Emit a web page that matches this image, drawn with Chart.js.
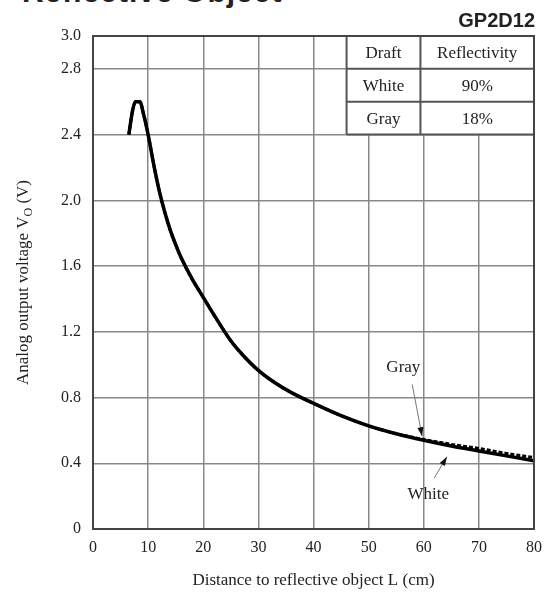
<!DOCTYPE html>
<html>
<head>
<meta charset="utf-8">
<script src="https://cdn.jsdelivr.net/npm/chart.js@4.4.1/dist/chart.umd.min.js"></script>
<style>
  html, body { margin: 0; padding: 0; background: #fff; }
  #wrap { position: relative; width: 551px; height: 603px; overflow: hidden; }
  #cut { position: absolute; left: 22px; top: -25px; font: bold 30px "Liberation Sans", sans-serif; color: #222; letter-spacing: 1px; }
  canvas { position: absolute; left: 0; top: 0; }
</style>
</head>
<body>
<div id="wrap">
  <div id="cut">Reflective Object</div>
  <canvas id="chart" width="551" height="603"></canvas>
</div>
<script>
// distance (cm) and output voltage (V)
const distances = [6.5, 7.2, 7.7, 8.5, 9.2, 10, 11, 12, 13, 14, 15, 16, 18, 20, 22, 25, 27, 30, 33, 36, 40, 45, 50, 55, 60, 65, 70, 75, 80];
const whiteVolts = [2.40, 2.55, 2.60, 2.60, 2.52, 2.40, 2.22, 2.06, 1.93, 1.82, 1.73, 1.65, 1.52, 1.41, 1.30, 1.145, 1.065, 0.965, 0.89, 0.83, 0.765, 0.69, 0.628, 0.58, 0.54, 0.505, 0.475, 0.445, 0.415];
const grayVolts  = [2.40, 2.55, 2.60, 2.60, 2.52, 2.40, 2.22, 2.06, 1.93, 1.82, 1.73, 1.65, 1.52, 1.41, 1.30, 1.145, 1.065, 0.965, 0.89, 0.83, 0.765, 0.69, 0.628, 0.58, 0.545, 0.515, 0.49, 0.46, 0.435];

const xTickValues = [0, 10, 20, 30, 40, 50, 60, 70, 80];
const yTickValues = [0, 0.4, 0.8, 1.2, 1.6, 2.0, 2.4, 2.8, 3.0];

const tableHeader = ["Draft", "Reflectivity"];
const tableRows = [["White", "90%"], ["Gray", "18%"]];
// table edges in data units: left, column split, right / row lines
const tableCols = [46, 59.4, 80];
const tableRowLines = [3.0, 2.8, 2.6, 2.4];

// callouts: label position, arrow start, arrow tip (data units)
const callouts = [
  { text: "Gray", at: [56.3, 0.98], from: [57.9, 0.88], to: [59.7, 0.565] },
  { text: "White", at: [60.8, 0.21], from: [61.9, 0.31], to: [64.2, 0.44] }
];

const serif = '"Liberation Serif", "Times New Roman", serif';
const ink = "#222";

function toPoints(xs, ys) {
  return xs.map((x, i) => ({ x: x, y: ys[i] }));
}

const extras = {
  id: "extras",
  beforeDatasetsDraw(chart) {
    const ctx = chart.ctx;
    const xs = chart.scales.x, ys = chart.scales.y;
    const x0 = xs.getPixelForValue(tableCols[0]);
    const x1 = xs.getPixelForValue(tableCols[1]);
    const x2 = xs.getPixelForValue(tableCols[2]);
    const yTop = ys.getPixelForValue(tableRowLines[0]);
    const yBot = ys.getPixelForValue(tableRowLines[tableRowLines.length - 1]);
    ctx.save();
    ctx.fillStyle = "#fff";
    ctx.fillRect(x0, yTop, x2 - x0, yBot - yTop);
    ctx.strokeStyle = "#555";
    ctx.lineWidth = 2;
    ctx.beginPath();
    ctx.moveTo(x0, yTop); ctx.lineTo(x0, yBot);
    ctx.moveTo(x1, yTop); ctx.lineTo(x1, yBot);
    tableRowLines.forEach(v => {
      const y = ys.getPixelForValue(v);
      ctx.moveTo(x0, y); ctx.lineTo(x2, y);
    });
    ctx.stroke();
    ctx.fillStyle = ink;
    ctx.font = "17px " + serif;
    ctx.textAlign = "center";
    ctx.textBaseline = "middle";
    const rows = [tableHeader].concat(tableRows);
    rows.forEach((r, i) => {
      const yc = (ys.getPixelForValue(tableRowLines[i]) + ys.getPixelForValue(tableRowLines[i + 1])) / 2 + 1;
      ctx.fillText(r[0], (x0 + x1) / 2, yc);
      ctx.fillText(r[1], (x1 + x2) / 2, yc);
    });
    ctx.restore();
  },
  afterDraw(chart) {
    const ctx = chart.ctx;
    const xs = chart.scales.x, ys = chart.scales.y;
    const area = chart.chartArea;
    ctx.save();
    // callouts
    callouts.forEach(c => {
      const lx = xs.getPixelForValue(c.at[0]), ly = ys.getPixelForValue(c.at[1]);
      ctx.fillStyle = ink;
      ctx.font = "17px " + serif;
      ctx.textAlign = "center";
      ctx.textBaseline = "middle";
      ctx.fillText(c.text, lx, ly);
      const ax = xs.getPixelForValue(c.from[0]), ay = ys.getPixelForValue(c.from[1]);
      const bx = xs.getPixelForValue(c.to[0]), by = ys.getPixelForValue(c.to[1]);
      ctx.strokeStyle = "#777";
      ctx.lineWidth = 1;
      ctx.beginPath();
      ctx.moveTo(ax, ay); ctx.lineTo(bx, by);
      ctx.stroke();
      const ang = Math.atan2(by - ay, bx - ax);
      ctx.fillStyle = "#111";
      ctx.beginPath();
      ctx.moveTo(bx, by);
      ctx.lineTo(bx - 9 * Math.cos(ang) + 3 * Math.sin(ang), by - 9 * Math.sin(ang) - 3 * Math.cos(ang));
      ctx.lineTo(bx - 9 * Math.cos(ang) - 3 * Math.sin(ang), by - 9 * Math.sin(ang) + 3 * Math.cos(ang));
      ctx.closePath();
      ctx.fill();
    });
    // plot frame
    ctx.strokeStyle = "#444";
    ctx.lineWidth = 2;
    ctx.strokeRect(area.left, area.top, area.right - area.left, area.bottom - area.top);
    // y axis title with subscript
    ctx.fillStyle = ink;
    ctx.translate(22, (area.top + area.bottom) / 2);
    ctx.rotate(-Math.PI / 2);
    const big = "17px " + serif, small = "12px " + serif;
    const p1 = "Analog output voltage V", p2 = "O", p3 = " (V)";
    ctx.font = big; const w1 = ctx.measureText(p1).width, w3 = ctx.measureText(p3).width;
    ctx.font = small; const w2 = ctx.measureText(p2).width;
    let sx = -(w1 + w2 + w3) / 2;
    ctx.textAlign = "left";
    ctx.textBaseline = "alphabetic";
    ctx.font = big; ctx.fillText(p1, sx, 6); sx += w1;
    ctx.font = small; ctx.fillText(p2, sx, 10); sx += w2;
    ctx.font = big; ctx.fillText(p3, sx, 6);
    ctx.restore();
    // model name
    ctx.save();
    ctx.fillStyle = "#222";
    ctx.font = 'bold 20px "Liberation Sans", Arial, sans-serif';
    ctx.textAlign = "right";
    ctx.textBaseline = "alphabetic";
    ctx.fillText("GP2D12", area.right + 1, 27);
    ctx.restore();
  }
};

new Chart(document.getElementById("chart"), {
  type: "line",
  data: {
    datasets: [
      {
        label: "Gray",
        data: toPoints(distances, grayVolts),
        borderColor: "#000",
        borderWidth: 3,
        borderDash: [4, 2],
        pointRadius: 0,
        cubicInterpolationMode: "monotone",
        fill: false
      },
      {
        label: "White",
        data: toPoints(distances, whiteVolts),
        borderColor: "#000",
        borderWidth: 3.5,
        pointRadius: 0,
        cubicInterpolationMode: "monotone",
        fill: false
      }
    ]
  },
  options: {
    responsive: false,
    animation: false,
    layout: { padding: { left: 0, top: 36, right: 13, bottom: 8 } },
    plugins: { legend: { display: false }, tooltip: { enabled: false } },
    scales: {
      x: {
        type: "linear",
        min: 0,
        max: 80,
        afterBuildTicks: s => { s.ticks = xTickValues.map(v => ({ value: v })); },
        afterFit: s => { s.height = 66; },
        grid: { color: "#888", lineWidth: 1.5, drawTicks: false },
        border: { color: "#444", width: 2 },
        ticks: {
          padding: 9,
          color: ink,
          font: { family: serif, size: 16 },
          callback: v => String(v)
        },
        title: {
          display: true,
          text: "Distance to reflective object L (cm)",
          color: ink,
          font: { family: serif, size: 17 },
          padding: { top: 6 }
        }
      },
      y: {
        type: "linear",
        min: 0,
        max: 3.0,
        afterBuildTicks: s => { s.ticks = yTickValues.map(v => ({ value: v })); },
        afterFit: s => { s.width = 93; },
        grid: { color: "#888", lineWidth: 1.5, drawTicks: false },
        border: { color: "#444", width: 2 },
        ticks: {
          padding: 12,
          color: ink,
          font: { family: serif, size: 16 },
          callback: v => (v === 0 ? "0" : v.toFixed(1))
        }
      }
    }
  },
  plugins: [extras]
});
</script>
</body>
</html>
